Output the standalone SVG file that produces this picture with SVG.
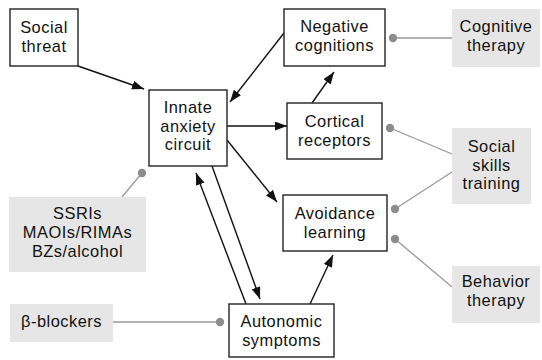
<svg xmlns="http://www.w3.org/2000/svg" width="542" height="360" viewBox="0 0 542 360">
<defs>
<marker id="arr" markerUnits="userSpaceOnUse" markerWidth="13" markerHeight="10" refX="12" refY="4.5" orient="auto">
<path d="M0,0 L12,4.5 L0,9 z" fill="#111"/>
</marker>
<style>
.box{fill:#fff;stroke:#222;stroke-width:1.4}
.tbox{fill:#e6e6e6;stroke:none}
text{font-family:"Liberation Sans",Arial,sans-serif;font-size:16.4px;letter-spacing:0.5px;fill:#111;text-anchor:middle}
.arrow{stroke:#111;stroke-width:1.4;fill:none;marker-end:url(#arr)}
.link{stroke:#999;stroke-width:1.3;fill:none}
.dot{fill:#8c8c8c}
</style>
</defs>
<rect width="542" height="360" fill="#fff"/>
<g id="connectors">
<path class="arrow" d="M78,66 L144,89"/>
<path class="arrow" d="M284,33 L230,102"/>
<path class="arrow" d="M227,126 L287,126"/>
<path class="arrow" d="M312,103 L334,72"/>
<path class="arrow" d="M227,140 L277,202"/>
<path class="arrow" d="M212,166 L260,299"/>
<path class="arrow" d="M246,304 L196,173"/>
<path class="arrow" d="M310,304 L333,255"/>
<path class="link" d="M393,38 L452,38"/>
<circle class="dot" cx="393" cy="38" r="4.2"/>
<path class="link" d="M390,128 L452,154"/>
<circle class="dot" cx="390" cy="128" r="4.2"/>
<path class="link" d="M395,209 L452,172"/>
<circle class="dot" cx="395" cy="209" r="4.2"/>
<path class="link" d="M395,239 L452,287"/>
<circle class="dot" cx="395" cy="239" r="4.2"/>
<path class="link" d="M142,173 L122,197"/>
<circle class="dot" cx="142" cy="173" r="4.2"/>
<path class="link" d="M113,322 L220,322"/>
<circle class="dot" cx="220" cy="322" r="4.2"/>
</g>
<g id="social-threat">
<rect class="box" x="10" y="9" width="68" height="57"/>
<text x="44" y="33">Social<tspan x="44" dy="18.5">threat</tspan></text>
</g>
<g id="innate-anxiety-circuit">
<rect class="box" x="149" y="90" width="78" height="76"/>
<text x="188" y="113">Innate<tspan x="188" dy="18.5">anxiety</tspan><tspan x="188" dy="18.5">circuit</tspan></text>
</g>
<g id="negative-cognitions">
<rect class="box" x="284" y="9" width="101" height="57"/>
<text x="334.5" y="32">Negative<tspan x="334.5" dy="18.5">cognitions</tspan></text>
</g>
<g id="cortical-receptors">
<rect class="box" x="287" y="103" width="95" height="56"/>
<text x="334.5" y="127">Cortical<tspan x="334.5" dy="18.5">receptors</tspan></text>
</g>
<g id="avoidance-learning">
<rect class="box" x="283" y="195" width="104" height="56"/>
<text x="335" y="219">Avoidance<tspan x="335" dy="18.5">learning</tspan></text>
</g>
<g id="autonomic-symptoms">
<rect class="box" x="229" y="304" width="105" height="53"/>
<text x="281.5" y="327">Autonomic<tspan x="281.5" dy="18.5">symptoms</tspan></text>
</g>
<g id="cognitive-therapy">
<rect class="tbox" x="452" y="9" width="88" height="58"/>
<text x="496" y="32">Cognitive<tspan x="496" dy="18.5">therapy</tspan></text>
</g>
<g id="social-skills-training">
<rect class="tbox" x="452" y="128" width="79" height="76"/>
<text x="491.5" y="152">Social<tspan x="491.5" dy="18.5">skills</tspan><tspan x="491.5" dy="18.5">training</tspan></text>
</g>
<g id="behavior-therapy">
<rect class="tbox" x="452" y="266" width="88" height="57"/>
<text x="496" y="287">Behavior<tspan x="496" dy="18.5">therapy</tspan></text>
</g>
<g id="ssris">
<rect class="tbox" x="9" y="197" width="137" height="75"/>
<text x="77.5" y="219">SSRIs<tspan x="77.5" dy="19">MAOIs/RIMAs</tspan><tspan x="77.5" dy="19">BZs/alcohol</tspan></text>
</g>
<g id="beta-blockers">
<rect class="tbox" x="10" y="304" width="103" height="38"/>
<text x="61.5" y="327">β-blockers</text>
</g>
</svg>
